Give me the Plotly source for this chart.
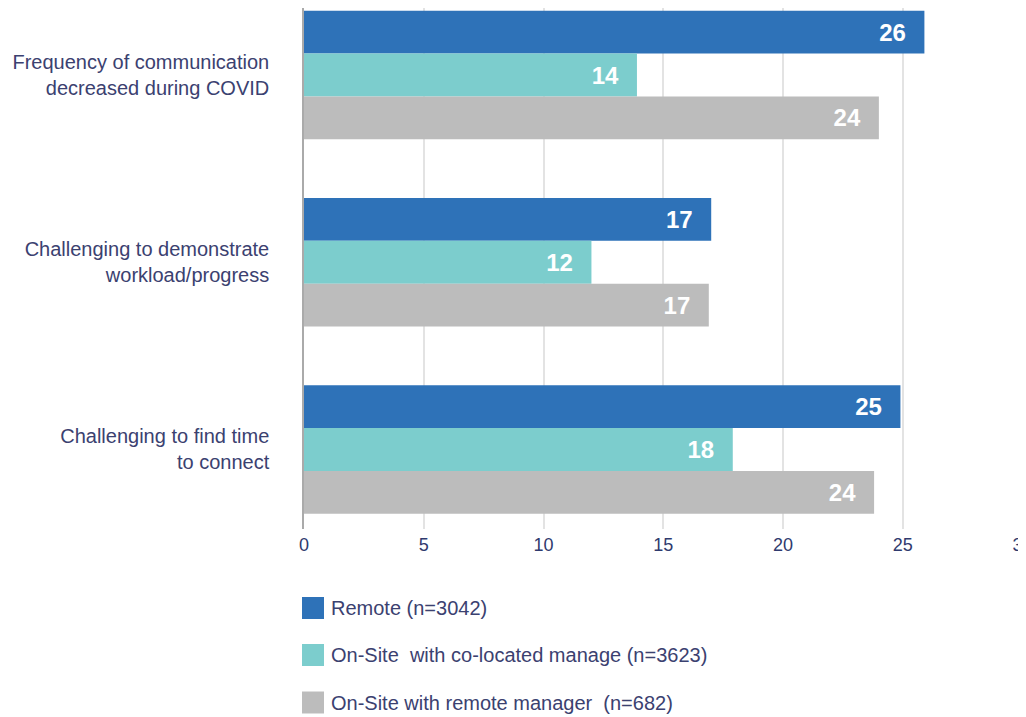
import plotly.graph_objects as go

categories = [
    "Frequency of communication<br>decreased during COVID",
    "Challenging to demonstrate<br>workload/progress",
    "Challenging to find time<br>to connect",
]
series_names = [
    "Remote (n=3042)",
    "On-Site  with co-located manage (n=3623)",
    "On-Site with remote manager  (n=682)",
]
remote = [25.9, 17.0, 24.9]
onsite_colocated = [13.9, 12.0, 17.9]
onsite_remote_mgr = [24.0, 16.9, 23.8]
x_ticks = [0, 5, 10, 15, 20, 25, 30]

colors = ["#2e72b8", "#7ccdcd", "#bcbcbc"]
text_color = "#3b4170"
FONT = "Liberation Sans, Arial, sans-serif"

# page body has an 8px margin; figure sized to fill the remaining window
OFF = 8
W, H = 1018, 709
ML, MR, MT, MB = 296, 0.5, 0, 188
PW, PH = W - ML - MR, H - MT - MB

fig = go.Figure()
pad = "<span style='font-size:14px'>\u00a0\u00a0\u00a0\u00a0</span>"
for name, vals, col in zip(series_names, [remote, onsite_colocated, onsite_remote_mgr], colors):
    fig.add_trace(go.Bar(
        name=name, y=categories, x=vals, orientation="h",
        marker=dict(color=col, line=dict(width=0)),
        texttemplate="%{x:.0f}" + pad,
        textposition="inside", insidetextanchor="end",
        textfont=dict(family=FONT, size=24, color="white", weight="bold"),
        showlegend=False, hoverinfo="x+name",
    ))

fig.update_layout(
    width=W, height=H,
    margin=dict(l=ML, r=MR, t=MT, b=MB, pad=0, autoexpand=False),
    barmode="group", bargap=0.314, bargroupgap=0,
    plot_bgcolor="white", paper_bgcolor="white",
    font=dict(family=FONT, color=text_color, size=20),
    xaxis=dict(range=[0, 30.1], tickvals=x_ticks, showgrid=True, gridcolor="#e3e3e3",
               gridwidth=1.5, zeroline=False, showline=False, ticks="",
               ticklabeloverflow="allow", automargin=False,
               tickfont=dict(size=18, color="#2f3a6e"), ticklabelstandoff=3),
    yaxis=dict(type="category", categoryorder="array", categoryarray=categories,
               range=[2.4246, -0.3578], showgrid=False, zeroline=False,
               showline=True, linecolor="#aaaaaa", linewidth=1.5, ticks="",
               automargin=False,
               tickfont=dict(size=20, color=text_color), ticklabelstandoff=29),
)

# custom legend with large square swatches (positions given in screen pixels)
def px_x(sx):
    return (sx - OFF - ML) / PW

def px_y(sy):
    return (H - MB - (sy - OFF)) / PH

legend_centers = [608, 655, 702.5]
for name, col, cy in zip(series_names, colors, legend_centers):
    fig.add_shape(type="rect", xref="paper", yref="paper",
                  x0=px_x(302), x1=px_x(324), y0=px_y(cy - 11), y1=px_y(cy + 11),
                  fillcolor=col, line=dict(width=0))
    fig.add_annotation(xref="paper", yref="paper", x=px_x(329), y=px_y(cy),
                       text=name, showarrow=False, xanchor="left", yanchor="middle",
                       font=dict(family=FONT, size=20, color=text_color))

fig.write_html("out.html")
